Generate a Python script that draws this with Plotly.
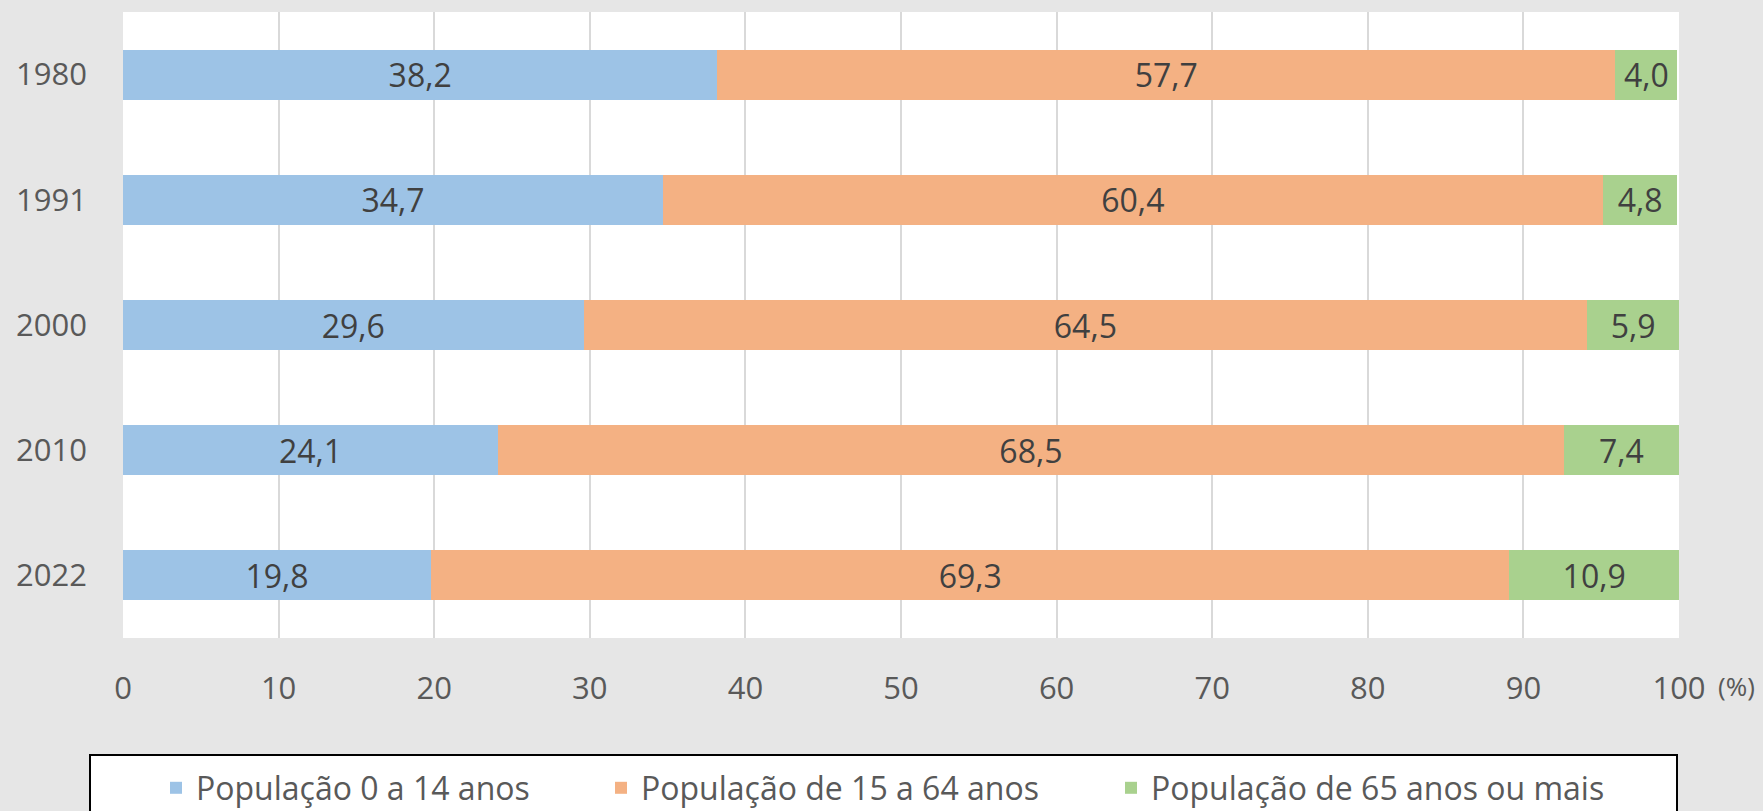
import plotly.graph_objects as go

years = ["1980", "1991", "2000", "2010", "2022"]
pop_0_14 = [38.2, 34.7, 29.6, 24.1, 19.8]
pop_15_64 = [57.7, 60.4, 64.5, 68.5, 69.3]
pop_65 = [4.0, 4.8, 5.9, 7.4, 10.9]
series_names = ["População 0 a 14 anos", "População de 15 a 64 anos", "População de 65 anos ou mais"]
series_colors = ["#9DC3E6", "#F4B183", "#A9D18E"]
x_ticks = [0, 10, 20, 30, 40, 50, 60, 70, 80, 90, 100]

W, H = 1763, 811
L, R, T, B = 123, 84, 12, 173
pw, ph = W - L - R, H - T - B


def px_x(p):
    return (p - L) / pw


def px_y(p):
    return (H - B - p) / ph


legend_ids = ["legend", "legend2", "legend3"]
legend_left = [156, 601, 1111]

fig = go.Figure()
for name, vals, col, lid in zip(series_names, [pop_0_14, pop_15_64, pop_65], series_colors, legend_ids):
    fig.add_trace(go.Bar(
        y=years, x=vals, name=name, orientation="h", legend=lid,
        marker=dict(color=col, line=dict(width=0)),
        texttemplate="%{x:.1f}", textposition="inside", insidetextanchor="middle",
        textfont=dict(family="Open Sans", size=32, color="#404040"),
        constraintext="none", cliponaxis=False,
    ))

fig.add_shape(type="rect", xref="paper", yref="paper",
              x0=px_x(90), x1=px_x(1677), y0=px_y(840), y1=px_y(755),
              line=dict(color="black", width=2), fillcolor="white", layer="below")

fig.add_annotation(text="(%)", xref="paper", yref="paper", x=px_x(1716), y=px_y(686),
                   xanchor="left", yanchor="middle", showarrow=False,
                   font=dict(family="Open Sans", size=26, color="#595959"))

legend_common = dict(orientation="h", yanchor="middle", xanchor="left", y=px_y(788),
                     bgcolor="rgba(0,0,0,0)", borderwidth=0,
                     font=dict(family="Open Sans", size=32, color="#595959"))

fig.update_layout(
    width=W, height=H,
    margin=dict(l=L, r=R, t=T, b=B, autoexpand=False),
    paper_bgcolor="#E6E6E6", plot_bgcolor="white",
    barmode="stack", bargap=0.6,
    separators=",.",
    showlegend=True,
    legend=dict(x=px_x(legend_left[0]), **legend_common),
    legend2=dict(x=px_x(legend_left[1]), **legend_common),
    legend3=dict(x=px_x(legend_left[2]), **legend_common),
    xaxis=dict(range=[0, 100], tickvals=x_ticks, showgrid=True, gridcolor="#D9D9D9", gridwidth=2,
               zeroline=False, showline=False, ticks="", ticklabelstandoff=29,
               tickfont=dict(family="Open Sans", size=31, color="#595959"), fixedrange=True),
    yaxis=dict(categoryorder="array", categoryarray=years, autorange="reversed",
               showgrid=False, zeroline=False, showline=False, ticks="", ticklabelstandoff=35,
               tickfont=dict(family="Open Sans", size=31, color="#595959")),
)

fig.write_html(
    "out.html",
    config={"displayModeBar": False},
    post_script="document.body.style.margin='0';document.body.style.background='#E6E6E6';",
)
